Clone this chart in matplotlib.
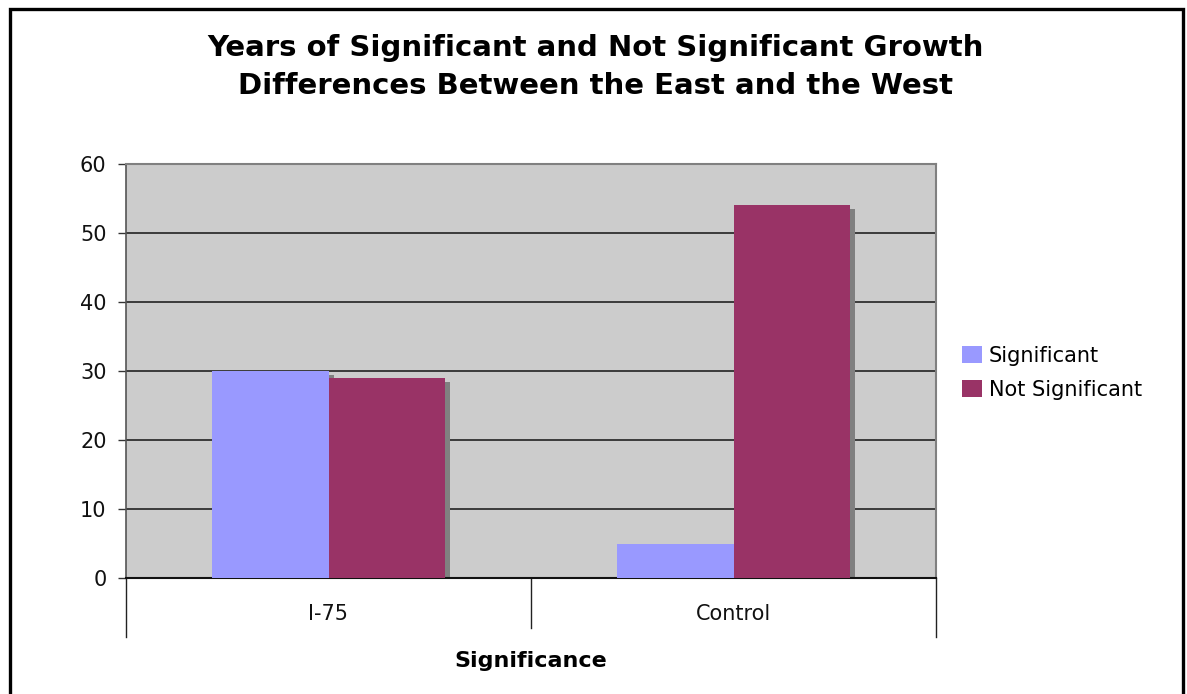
import matplotlib
matplotlib.use("Agg")
import matplotlib.pyplot as plt
import matplotlib.transforms as mtransforms
from matplotlib.patches import Rectangle
import numpy as np

categories = ["I-75", "Control"]
series_names = ["Significant", "Not Significant"]
significant = [30, 5]
not_significant = [29, 54]
y_ticks = [0, 10, 20, 30, 40, 50, 60]
colors = ["#9999FF", "#993366"]

W, H, DPI = 1187, 694, 100
fig = plt.figure(figsize=(W / DPI, H / DPI), dpi=DPI)
fig.patch.set_facecolor("white")

L, R, T, B = 126, 936, 164, 578
ax = fig.add_axes([L / W, 1 - B / H, (R - L) / W, (B - T) / H])
ax.set_facecolor("#CCCCCC")

x = np.arange(len(categories))
bw = 0.287
shadow = mtransforms.ScaledTranslation(5 / DPI, -4 / DPI, fig.dpi_scale_trans)
for i, vals in enumerate([significant, not_significant]):
    pos = x + (i - 0.5) * bw
    ax.bar(pos, vals, width=bw, align="center", color="#808080", linewidth=0,
           transform=ax.transData + shadow, zorder=2)
for i, vals in enumerate([significant, not_significant]):
    pos = x + (i - 0.5) * bw
    ax.bar(pos, vals, width=bw, align="center", color=colors[i], linewidth=0,
           zorder=3 + i, label=series_names[i])

ax.set_xlim(-0.5, len(categories) - 0.5)
ax.set_ylim(0, 60)
ax.set_yticks(y_ticks)
ax.yaxis.grid(True, color="#222222", linewidth=1.2, zorder=1)
ax.set_axisbelow(True)
ax.tick_params(axis="y", direction="out", length=6, width=1, color="#333333",
               labelsize=15, pad=8)
ax.set_xticks(x)
ax.set_xticklabels(categories, fontsize=15)
ax.tick_params(axis="x", length=0, pad=19)
for lab in ax.get_xticklabels() + ax.get_yticklabels():
    lab.set_color("#111111")

for s in ["top", "right"]:
    ax.spines[s].set_color("#808080")
    ax.spines[s].set_linewidth(1.5)
ax.spines["left"].set_color("#555555")
ax.spines["left"].set_linewidth(1.2)
ax.spines["bottom"].set_color("#111111")
ax.spines["bottom"].set_linewidth(1.5)

# category separator ticks below axis
trans = mtransforms.blended_transform_factory(ax.transData, ax.transAxes)
for xb, depth in [(-0.5, 59), (0.5, 50), (1.5, 59)]:
    ax.plot([xb, xb], [0, -depth / (B - T)], transform=trans, color="#222222",
            linewidth=1, clip_on=False)

ax.set_xlabel("Significance", fontsize=16, fontweight="bold", labelpad=19)

fig.text(596 / W, 1 - 67 / H,
         "Years of Significant and Not Significant Growth\nDifferences Between the East and the West",
         ha="center", va="center", fontsize=21, fontweight="bold", linespacing=1.42)

leg = fig.legend(loc="upper left", bbox_to_anchor=(962 / W, 1 - 346 / H),
                 frameon=False, fontsize=15, handlelength=0.95, handleheight=0.9,
                 handletextpad=0.33, labelspacing=0.66, borderaxespad=0, borderpad=0)

fig.patches.append(Rectangle((10 / W, -0.05), 1173 / W, 1.05 - 9 / H,
                             transform=fig.transFigure, fill=False,
                             edgecolor="black", linewidth=2.4, zorder=10))

fig.savefig("out.png", dpi=DPI)
